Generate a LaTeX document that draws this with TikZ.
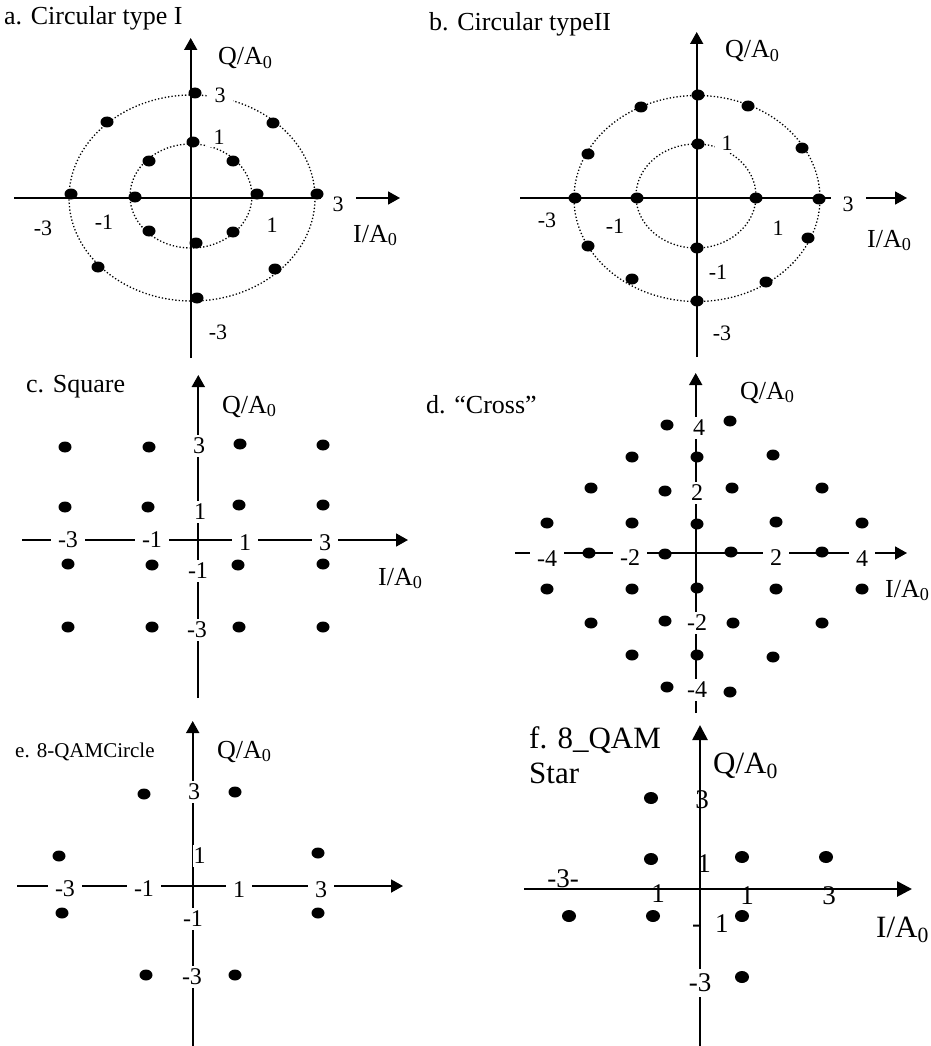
\documentclass[tikz,border=0pt]{standalone}
\usepackage{fontspec}
\setmainfont{Liberation Serif}
\usetikzlibrary{arrows.meta,shapes.geometric}
\tikzset{
  jel/.style={ellipse,fill,minimum width=13pt,minimum height=11pt,inner sep=0pt},
  nagyjel/.style={jel,minimum width=14pt,minimum height=12pt},
  tengely/.style={line width=1.8pt,-{Triangle[length=12pt,width=13pt]}},
  vastag/.style={line width=2.7pt,-{Triangle[length=15pt,width=15pt]}},
  kor/.style={line width=1.3pt,dash pattern=on 1.3pt off 2.1pt},
  szam/.style={fill=white,inner xsep=7pt,inner ysep=3pt},
  cimke/.style={anchor=base west,inner sep=0pt},
  cim/.style={anchor=base west,inner sep=0pt},
  kis/.style={font=\fontsize{22}{26}\selectfont},
  koz/.style={font=\fontsize{24}{28}\selectfont},
  nagy/.style={font=\fontsize{27}{31}\selectfont},
  nagyobb/.style={font=\fontsize{31}{35}\selectfont},
}

\begin{document}
\begin{tikzpicture}[x=1pt,y=-1pt,font=\fontsize{26}{30}\selectfont]
  \useasboundingbox (0,0) rectangle (930,1046);

  % a
  \node[cim] (acim) at (4,25) {a. Circular type I};
  \draw[kor] (192,198) ellipse (123pt and 103pt);
  \draw[kor] (191,196) ellipse (61pt and 52pt);
  \draw[tengely] (14,198) -- (400,198);
  \draw[tengely] (190.7,358) -- (190.7,38);
  \node[cimke] (aQ) at (218,65) {Q/A\textsubscript{0}};
  \node[cimke] (aI) at (353,242) {I/A\textsubscript{0}};
  \node[szam,kis,inner xsep=12pt] (ax3) at (338,204) {3};
  \node[szam,kis] (axm3) at (43,228) {-3};
  \node[szam,kis] (axm1) at (104,222) {-1};
  \node[szam,kis] (ax1) at (272,225) {1};
  \node[szam,kis] (ay3) at (220,95) {3};
  \node[szam,kis] (ay1) at (219,137) {1};
  \node[szam,kis] (aym3) at (218,332) {-3};
  \foreach \x/\y [count=\i] in {195/93,107/122,273/123,193/142,149/161,233/161,
      71/194,135/197,257/194,317/194,149/231,233/232,196/243,98/267,275/269,197/298}
    \node[jel] (a\i) at (\x,\y) {};

  % b
  \node[cim] (bcim) at (429,31) {b. Circular typeII};
  \draw[kor] (697,198.5) ellipse (123pt and 103pt);
  \draw[kor] (696,196) ellipse (60pt and 52pt);
  \draw[tengely] (520,198) -- (907,198);
  \draw[tengely] (696.7,357) -- (696.7,32);
  \node[cimke] (bQ) at (725,58) {Q/A\textsubscript{0}};
  \node[cimke] (bI) at (867,247) {I/A\textsubscript{0}};
  \node[szam,kis,inner xsep=12pt] (bx3) at (848,204) {3};
  \node[szam,kis] (bxm3) at (547,220) {-3};
  \node[szam,kis] (bxm1) at (615,226) {-1};
  \node[szam,kis] (bx1) at (778,228) {1};
  \node[szam,kis] (by1) at (727,143) {1};
  \node[szam,kis] (bym1) at (718,272) {-1};
  \node[szam,kis] (bym3) at (722,333) {-3};
  \foreach \x/\y [count=\i] in {698/95,641/107,748/106,698/144,588/154,802/148,
      575/198,637/198,756/198,819/199,808/238,588/246,697/248,632/279,766/282,697/301}
    \node[jel] (b\i) at (\x,\y) {};

  % c
  \node[cim] (ccim) at (26,392) {c. Square};
  \draw[tengely] (22,540) -- (408,540);
  \draw[tengely] (198.3,698) -- (198.3,375);
  \node[cimke] (cQ) at (222,413) {Q/A\textsubscript{0}};
  \node[cimke] (cI) at (378,585) {I/A\textsubscript{0}};
  \node[szam,koz] (cxm3) at (68,540) {-3};
  \node[szam,koz] (cxm1) at (152,540) {-1};
  \node[szam,koz] (cx1) at (245,543) {1};
  \node[szam,koz] (cx3) at (325,543) {3};
  \node[szam,koz] (cy3) at (199,446) {3};
  \node[szam,koz] (cy1) at (200,512) {1};
  \node[szam,koz] (cym1) at (198,571) {-1};
  \node[szam,koz] (cym3) at (197,630) {-3};
  \foreach \x/\y [count=\i] in {65/447,149/447,240/444,323/445,65/507,148/507,239/505,323/505,
      68/564,152/565,238/565,323/564,68/627,152/627,239/627,323/627}
    \node[jel] (c\i) at (\x,\y) {};

  % d
  \node[cim] (dcim) at (426,413) {d. “Cross”};
  \draw[tengely] (515,553) -- (907,553);
  \draw[tengely] (695.7,713) -- (695.7,373);
  \node[cimke] (dQ) at (740,399) {Q/A\textsubscript{0}};
  \node[cimke] (dI) at (885,597) {I/A\textsubscript{0}};
  \node[szam,koz] (dxm4) at (547,559) {-4};
  \node[szam,koz] (dxm2) at (630,558) {-2};
  \node[szam,koz] (dx2) at (776,558) {2};
  \node[szam,koz] (dx4) at (862,559) {4};
  \node[szam,koz] (dy4) at (699,428) {4};
  \node[szam,koz] (dy2) at (697,493) {2};
  \node[szam,koz] (dym2) at (697,623) {-2};
  \node[szam,koz] (dym4) at (697,690) {-4};
  \foreach \x/\y [count=\i] in {667/425,730/421,632/457,697/457,773/455,
      591/488,665/491,732/488,822/488,547/523,632/523,697/524,776/522,862/523,
      589/553,665/554,731/552,822/552,547/589,632/589,697/588,776/589,862/589,
      591/623,665/621,733/623,822/623,632/655,697/655,773/657,667/687,730/692}
    \node[jel] (d\i) at (\x,\y) {};

  % e
  \node[cim,font=\fontsize{21}{25}\selectfont] (ecim) at (15,757) {e. 8-QAMCircle};
  \draw[tengely] (17,886) -- (403,886);
  \draw[tengely] (192.7,1046) -- (192.7,721);
  \node[cimke] (eQ) at (217,758) {Q/A\textsubscript{0}};
  \node[szam,koz] (exm3) at (65,889) {-3};
  \node[szam,koz] (exm1) at (144,889) {-1};
  \node[szam,koz] (ex1) at (239,890) {1};
  \node[szam,koz] (ex3) at (321,890) {3};
  \node[szam,koz] (ey3) at (194,792) {3};
  \node[szam,koz,inner xsep=0.8pt] (ey1) at (199.5,856) {1};
  \node[szam,koz] (eym1) at (193,919) {-1};
  \node[szam,koz] (eym3) at (192,977) {-3};
  \foreach \x/\y [count=\i] in {144/794,235/792,59/856,318/853,62/913,318/913,146/975,235/975}
    \node[jel] (e\i) at (\x,\y) {};

  % f
  \node[cim,nagyobb,align=left,anchor=north west] (fcim) at (529,726) {f. 8\_QAM\\Star};
  \draw[vastag] (524,889) -- (912,889);
  \draw[vastag] (700,1046) -- (700,725);
  \node[cimke,nagyobb] (fQ) at (713,773) {Q/A\textsubscript{0}};
  \node[cimke,nagyobb] (fI) at (876,937) {I/A\textsubscript{0}};
  \node[nagy,inner sep=0pt] (fxm3) at (563,879) {-3-};
  \node[nagy,inner sep=0pt] (fxm1) at (658,894) {1};
  \node[nagy,inner sep=0pt] (fx1) at (747,896) {1};
  \node[nagy,inner sep=0pt] (fx3) at (829,896) {3};
  \node[nagy,inner sep=0pt] (fy3) at (702,800) {3};
  \node[nagy,inner sep=0pt] (fy1) at (704,864) {1};
  \node[cimke,nagy] (fym1) at (692,932) {-\hspace{14pt}1};
  \node[szam,nagy,inner ysep=5pt] (fym3) at (700,983) {-3};
  \foreach \x/\y [count=\i] in {651/798,651/859,742/857,826/857,569/916,653/916,742/916,742/977}
    \node[nagyjel] (f\i) at (\x,\y) {};
\end{tikzpicture}
\end{document}
